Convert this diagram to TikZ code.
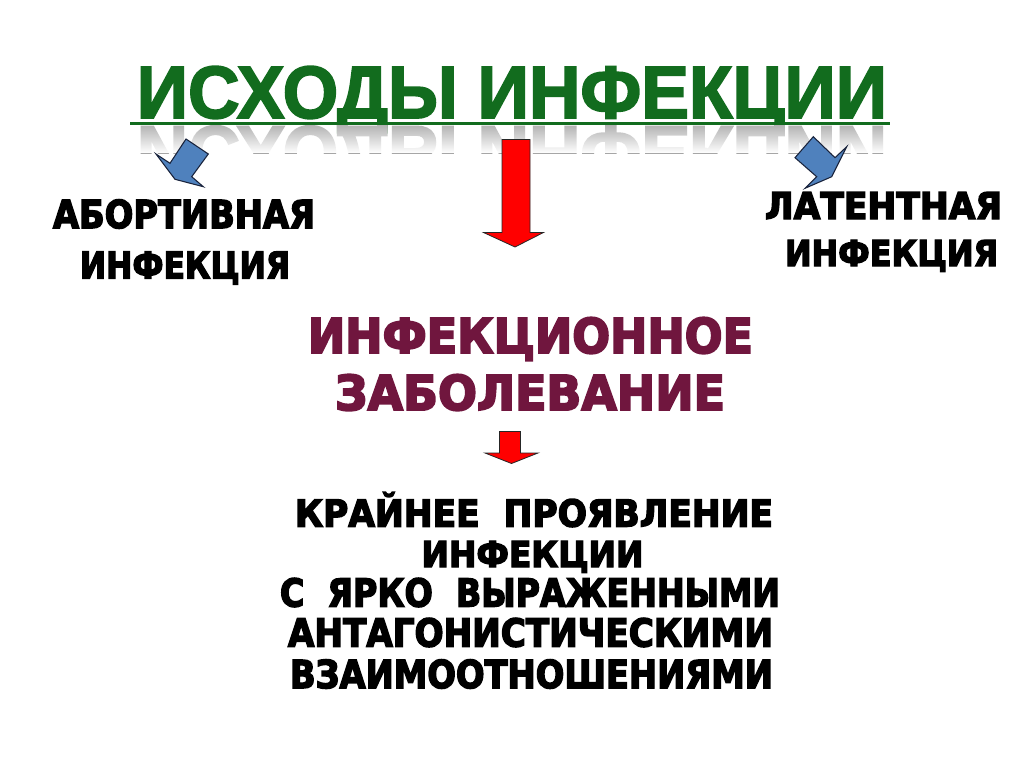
\documentclass[tikz,border=0pt]{standalone}
\usepackage{fontspec}
\usepackage{graphicx}
\usetikzlibrary{fadings}
\newfontfamily\blkfont[BoldFeatures={FakeBold=4}]{DejaVu Sans}
\newfontfamily\ttlfont[BoldFeatures={FakeBold=2.5}]{Liberation Sans}
\newlength\px \setlength\px{0.75pt}
\newcommand\fitt[4]{\resizebox{#1\px}{#2\px}{#3\smash{#4}\vphantom{Н}}}
\newcommand\blk{\blkfont\bfseries}
\newcommand\ttl{\ttlfont\bfseries}
\definecolor{ttlgreen}{RGB}{18,108,30}
\definecolor{maroon}{RGB}{112,22,62}
\definecolor{arrowblue}{RGB}{79,129,189}
\definecolor{arrowedge}{RGB}{25,35,60}
\tikzfading[name=fadeup, top color=transparent!85, bottom color=transparent!0]
\tikzset{
  txt/.style={inner sep=0pt, outer sep=0pt},
  bluearrow/.style={fill=arrowblue, draw=arrowedge, line width=0.8pt, line join=miter},
  redarrow/.style={fill=red, draw=black!85, line width=0.6pt, line join=miter},
}
\begin{document}
\begin{tikzpicture}[x=0.75pt, y=-0.75pt]
\useasboundingbox (0,0) rectangle (1024,767);
\fill[white] (0,0) rectangle (1024,767);
% title
\node[txt, text=ttlgreen] (title) at (512,92.5) {\fitt{750}{51}{\ttl}{ИСХОДЫ ИНФЕКЦИИ}};
\begin{scope}
  \clip (120,125) rectangle (900,153);
  \node[txt, text=gray!70] (titlerefl) at (512,152) {\scalebox{1}[-1]{\fitt{750}{51}{\ttl}{ИСХОДЫ ИНФЕКЦИИ}}};
  \fill[white, path fading=fadeup] (120,125) rectangle (900,153);
\end{scope}
\draw[ttlgreen, line width=3\px] (130,123.5) -- (890,123.5);
% blue arrows
\draw[bluearrow] (156,154) -- (170,163.3) -- (186,139) -- (208.3,154) -- (191.7,176.7) -- (203.3,186.7) -- (175,179.3) -- cycle;
\draw[bluearrow] (795,157.7) -- (813.3,136.7) -- (835,157.7) -- (846.7,146.7) -- (831.7,176.7) -- (805,188.3) -- (816.7,176.7) -- cycle;
% red arrows
\draw[redarrow] (502,139.5) -- (530,139.5) -- (530,232.5) -- (543.5,232.5) -- (515,247) -- (483.5,232.5) -- (502,232.5) -- cycle;
\draw[redarrow] (499.5,431.5) -- (520.5,431.5) -- (520.5,453) -- (538,453) -- (511.5,463.5) -- (485,453) -- (499.5,453) -- cycle;
% side labels
\node[txt] (abort1) at (184,214) {\fitt{262}{28}{\blk}{АБОРТИВНАЯ}};
\node[txt] (abort2) at (185,265) {\fitt{210}{27}{\blk}{ИНФЕКЦИЯ}};
\node[txt] (lat1) at (883.5,205.5) {\fitt{237}{27}{\blk}{ЛАТЕНТНАЯ}};
\node[txt] (lat2) at (891.5,253) {\fitt{213}{26}{\blk}{ИНФЕКЦИЯ}};
% middle
\node[txt, text=maroon] (mid1) at (530.5,335.5) {\fitt{445}{35}{\blk}{ИНФЕКЦИОННОЕ}};
\node[txt, text=maroon] (mid2) at (530,392.5) {\fitt{390}{35}{\blk}{ЗАБОЛЕВАНИЕ}};
% bottom block
\node[txt] (b1) at (534,513) {\fitt{478}{27}{\blk}{КРАЙНЕЕ\ \ ПРОЯВЛЕНИЕ}};
\node[txt] (b2) at (532.5,554) {\fitt{222}{26}{\blk}{ИНФЕКЦИИ}};
\node[txt] (b3) at (530,592.5) {\fitt{500}{28}{\blk}{С\ \ ЯРКО\ \ ВЫРАЖЕННЫМИ}};
\node[txt] (b4) at (530.5,632.5) {\fitt{485}{28}{\blk}{АНТАГОНИСТИЧЕСКИМИ}};
\node[txt] (b5) at (531.5,674) {\fitt{483}{28}{\blk}{ВЗАИМООТНОШЕНИЯМИ}};
\end{tikzpicture}
\end{document}
